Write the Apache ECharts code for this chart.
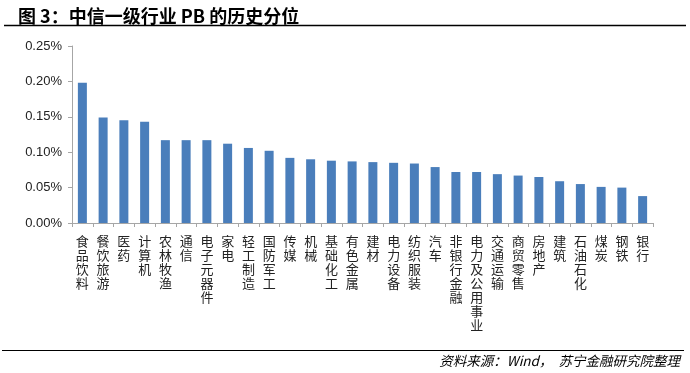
<!DOCTYPE html>
<html><head><meta charset="utf-8">
<script src="https://cdn.jsdelivr.net/npm/echarts@6/dist/echarts.min.js"></script>
<style>html,body{margin:0;padding:0;background:#fff}#c{width:690px;height:373px}</style>
</head><body><div id="c"></div>
<script>
const categories = ['食品饮料','餐饮旅游','医药','计算机','农林牧渔','通信','电子元器件','家电','轻工制造','国防军工','传媒','机械','基础化工','有色金属','建材','电力设备','纺织服装','汽车','非银行金融','电力及公用事业','交通运输','商贸零售','房地产','建筑','石油石化','煤炭','钢铁','银行'];
const pbPercentile = [0.198,0.149,0.145,0.143,0.117,0.117,0.117,0.112,0.106,0.102,0.092,0.090,0.088,0.087,0.086,0.085,0.084,0.079,0.072,0.072,0.069,0.067,0.065,0.059,0.055,0.051,0.050,0.038];
const yTicks = {min:0, max:0.25, interval:0.05};
const titleText = '图 3：中信一级行业 PB 的历史分位';
const sourceText = '资料来源：Wind，  苏宁金融研究院整理';

const chart = echarts.init(document.getElementById('c'), null, {renderer:'canvas'});
chart.setOption({
  animation:false,
  backgroundColor:'#fff',
  title:{text:titleText,left:13,top:2,textStyle:{fontSize:18,fontWeight:'bold',color:'#000',fontFamily:'Noto Sans CJK SC'}},
  graphic:[
    {type:'line',shape:{x1:4,y1:25.5,x2:686,y2:25.5},style:{stroke:'#000',lineWidth:1.5}},
    {type:'line',shape:{x1:2,y1:350.5,x2:684,y2:350.5},style:{stroke:'#000',lineWidth:1}},
    {type:'text',right:10,top:354,style:{text:sourceText,fontSize:13.5,fontStyle:'italic',fill:'#000',fontFamily:'Noto Sans CJK SC'}}
  ],
  grid:{left:72,right:37,top:46,bottom:150,containLabel:false},
  xAxis:{type:'category',data:categories,
    axisLine:{lineStyle:{color:'#a6a6a6'}},
    axisTick:{show:true,length:4,lineStyle:{color:'#a6a6a6'}},
    axisLabel:{interval:0,margin:11,fontSize:13,lineHeight:14,color:'#222',fontFamily:'Noto Sans CJK SC',
      formatter:v=>v.split('').join('\n'),verticalAlign:'top'}},
  yAxis:{type:'value',min:yTicks.min,max:yTicks.max,interval:yTicks.interval,
    axisLine:{show:true,lineStyle:{color:'#a6a6a6'}},
    axisTick:{show:true,length:4,lineStyle:{color:'#a6a6a6'}},
    splitLine:{show:false},
    axisLabel:{fontSize:13,color:'#222',margin:10,fontFamily:'Liberation Sans',formatter:v=>v.toFixed(2)+'%'}},
  series:[{type:'bar',data:pbPercentile,barWidth:9,itemStyle:{color:'#4a7ebb'}}]
});
</script></body></html>
